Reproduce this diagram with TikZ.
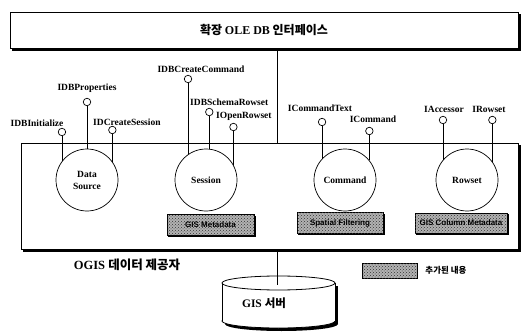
\documentclass[tikz,border=0pt]{standalone}
\usepackage{fontspec}
\setmainfont{Liberation Serif}
\newfontfamily\kr{Noto Sans CJK KR}
\newfontfamily\hsans{Liberation Sans}
\usetikzlibrary{patterns,calc}

% solid offset shadow along the right and bottom edges of a rectangular node
\newcommand\castshadow[2]{%
  \fill[black] ($(#1.north east)+(0,#2)$) rectangle ($(#1.south east)+(#2,#2)$);
  \fill[black] ($(#1.south west)+(#2,0)$) rectangle ($(#1.south east)+(#2,#2)$);
}

\tikzset{
  frame/.style={draw, line width=0.8pt, fill=white},
  comp/.style={circle, draw, line width=0.7pt, fill=white, minimum size=62pt,
    inner sep=0pt, align=center, font=\bfseries\fontsize{9.5}{12}\selectfont},
  lolli/.style={circle, draw, line width=0.7pt, fill=white, minimum size=7.5pt, inner sep=0pt},
  iface/.style={inner sep=0pt, font=\bfseries\fontsize{9.5}{11}\selectfont},
  stem/.style={line width=0.7pt},
  hatched/.style={draw=black, line width=0.6pt, fill=gray!60,
    postaction={pattern=crosshatch dots, pattern color=black!80}},
  added/.style={hatched, inner sep=0pt, text=black,
    font=\hsans\bfseries\fontsize{8}{9}\selectfont},
  link/.style={line width=1pt},
}

\begin{document}
\begin{tikzpicture}[x=1pt,y=-1pt]
\useasboundingbox (0,0) rectangle (530,334);

% interface layer on top
\node[frame, minimum width=508pt, minimum height=36pt] (ole) at (264,30)
  {\kr\bfseries\fontsize{12}{14}\selectfont 확장 {\rmfamily OLE DB} 인터페이스};
\castshadow{ole}{2.6}

% provider frame
\node[frame, minimum width=497pt, minimum height=106pt] (provider) at (269.5,196) {};
\castshadow{provider}{2.6}
\coordinate (linkx) at (277,0);
\draw[link] (ole.south -| linkx) -- (provider.north -| linkx);

% COM components
\node[comp] (ds)  at (87,180)  {Data\\Source};
\node[comp] (ses) at (206,180) {Session};
\node[comp] (cmd) at (345,180) {Command};
\node[comp] (row) at (467,180) {Rowset};

% exposed interfaces (lollipops)
\node[lolli] (idbinit)  at (ds.143.7 |- 0,132) {};
\node[lolli] (idbprop)  at (ds.90 |- 0,102) {};
\node[lolli] (idcs)     at (ds.36.3 |- 0,130) {};
\node[lolli] (idbcc)    at (ses.125.5 |- 0,79) {};
\node[lolli] (idbsr)    at (ses.84.5 |- 0,112) {};
\node[lolli] (iopen)    at (ses.29.4 |- 0,127) {};
\node[lolli] (icmdtext) at (cmd.137.9 |- 0,122) {};
\node[lolli] (icmd)     at (cmd.39.3 |- 0,131) {};
\node[lolli] (iacc)     at (row.140.7 |- 0,120) {};
\node[lolli] (irow)     at (row.36.3 |- 0,120) {};

\draw[stem] (idbinit)  -- (ds.143.7);
\draw[stem] (idbprop)  -- (ds.90);
\draw[stem] (idcs)     -- (ds.36.3);
\draw[stem] (idbcc)    -- (ses.125.5);
\draw[stem] (idbsr)    -- (ses.84.5);
\draw[stem] (iopen)    -- (ses.29.4);
\draw[stem] (icmdtext) -- (cmd.137.9);
\draw[stem] (icmd)     -- (cmd.39.3);
\draw[stem] (iacc)     -- (row.140.7);
\draw[stem] (irow)     -- (row.36.3);

\node[iface] (lidbinit)  at (37,123)  {IDBInitialize};
\node[iface] (lidbprop)  at (87,88)   {IDBProperties};
\node[iface, anchor=west] (lidcs)  at (93,122)  {IDCreateSession};
\node[iface] (lidbcc)    at (201,69)  {IDBCreateCommand};
\node[iface, anchor=west] (lidbsr) at (190,102) {IDBSchemaRowset};
\node[iface, anchor=west] (liopen) at (216,116) {IOpenRowset};
\node[iface] (licmdtext) at (320,108) {ICommandText};
\node[iface] (licmd)     at (373,119) {ICommand};
\node[iface] (liacc)     at (444,109) {IAccessor};
\node[iface] (lirow)     at (489,109) {IRowset};

% OGIS additions
\node[added, minimum width=87pt, minimum height=21pt] (gismeta) at (210.5,225) {GIS Metadata};
\castshadow{gismeta}{1.3}
\node[added, minimum width=86pt, minimum height=21pt] (spfilter) at (340,223) {Spatial Filtering};
\castshadow{spfilter}{1.3}
\node[added, minimum width=92pt, minimum height=20pt] (giscol) at (461,223) {GIS Column Metadata};
\castshadow{giscol}{1.3}

\node[inner sep=0pt, font=\bfseries\fontsize{12.5}{14}\selectfont] (provlabel) at (127,265)
  {OGIS {\kr 데이터 제공자}};

% legend
\node[hatched, minimum width=55pt, minimum height=15pt] (legendbox) at (389.5,270.5) {};
\node[inner sep=0pt, font=\kr\bfseries\fontsize{8.5}{10}\selectfont] (legendtext) at (446,270.5) {추가된 내용};

% GIS server (cylinder)
\begin{scope}[shift={(3,3)}]
  \fill[black] (278.5,321) ellipse [x radius=56.5, y radius=7];
  \fill[black] (222,283) rectangle (335,321);
\end{scope}
\filldraw[fill=white, line width=0.8pt] (278.5,321) ellipse [x radius=56.5, y radius=7];
\fill[white] (222,283) rectangle (335,321);
\draw[line width=0.8pt] (222,283) -- (222,321) (335,283) -- (335,321);
\filldraw[fill=white, line width=0.8pt] (278.5,283) ellipse [x radius=56.5, y radius=7];
\coordinate (gistop) at (277,285);
\node[inner sep=0pt, font=\bfseries\fontsize{11.5}{13}\selectfont] (gis) at (264,303) {GIS {\kr 서버}};

\draw[link] (provider.south -| gistop) -- (gistop);
\end{tikzpicture}
\end{document}
